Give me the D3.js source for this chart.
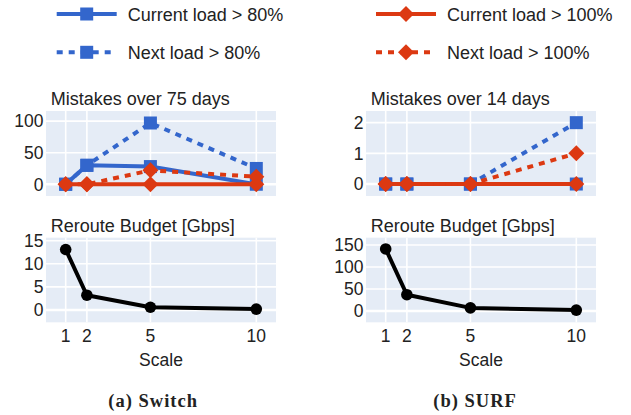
<!DOCTYPE html>
<html>
<head>
<meta charset="utf-8">
<script src="https://cdn.jsdelivr.net/npm/d3@7"></script>
<style>
body { margin: 0; background: #fff; }
svg text { font-family: "Liberation Sans", Arial, sans-serif; fill: #222; }
</style>
</head>
<body>
<svg id="chart" width="631" height="415"></svg>
<script>
// scale factors on x axis
var scales = [1, 2, 5, 10];

// Switch (left)
var switchCur80 = [0, 30, 28, 0];
var switchNext80 = [0, 30, 97, 25];
var switchCur100 = [0, 0, 0, 0];
var switchNext100 = [0, 0, 22, 12];
var switchBudget = [13.1, 3.2, 0.6, 0.2];

// SURF (right)
var surfCur80 = [0, 0, 0, 0];
var surfNext80 = [0, 0, 0, 2];
var surfCur100 = [0, 0, 0, 0];
var surfNext100 = [0, 0, 0, 1];
var surfBudget = [141, 37, 7, 2];

var mistakeTicksSwitch = [0, 50, 100];
var mistakeTicksSurf = [0, 1, 2];
var budgetTicksSwitch = [0, 5, 10, 15];
var budgetTicksSurf = [0, 50, 100, 150];

var BLUE = "#3366cc", RED = "#dc3912";
var dashPat = "6,6";

var svg = d3.select("#chart");

var seriesDefs = [
  { name: "Current load > 80%", color: BLUE, dash: null, shape: "square" },
  { name: "Next load > 80%", color: BLUE, dash: dashPat, shape: "square" },
  { name: "Current load > 100%", color: RED, dash: null, shape: "diamond" },
  { name: "Next load > 100%", color: RED, dash: dashPat, shape: "diamond" }
];

function marker(g, shape, color, cx, cy) {
  if (shape == "square") {
    g.append("rect").attr("x", cx - 6.5).attr("y", cy - 6.5)
      .attr("width", 13).attr("height", 13).attr("fill", color);
  } else if (shape == "diamond") {
    g.append("path")
      .attr("d", "M" + cx + "," + (cy - 8) + "L" + (cx + 8) + "," + cy + "L" + cx + "," + (cy + 8) + "L" + (cx - 8) + "," + cy + "Z")
      .attr("fill", color);
  } else {
    g.append("circle").attr("cx", cx).attr("cy", cy).attr("r", 5.8).attr("fill", color);
  }
}

function panel(x0, y0, y1, ydom, yticks, title, series, showX) {
  var x = d3.scaleLinear().domain([0.07, 10.93]).range([x0, x0 + 230]);
  var y = d3.scaleLinear().domain(ydom).range([y1, y0]);
  var g = svg.append("g");

  g.append("rect").attr("x", x0).attr("y", y0).attr("width", 230).attr("height", y1 - y0)
    .attr("fill", "#e5ecf6");

  // grid
  g.selectAll(".vg").data(scales).enter().append("line")
    .attr("x1", d => x(d)).attr("x2", d => x(d)).attr("y1", y0).attr("y2", y1)
    .attr("stroke", "#fff").attr("stroke-width", 1.6);
  g.selectAll(".hg").data(yticks).enter().append("line")
    .attr("x1", x0).attr("x2", x0 + 230).attr("y1", d => y(d)).attr("y2", d => y(d))
    .attr("stroke", "#fff").attr("stroke-width", d => d == 0 ? 2.6 : 1.6);

  // y tick labels
  g.selectAll(".yt").data(yticks).enter().append("text")
    .attr("x", x0 - 2.5).attr("y", d => y(d)).attr("dy", "0.36em")
    .attr("text-anchor", "end").style("font-size", "17.5px").text(d => d);

  g.append("text").attr("x", x0 + 4.7).attr("y", y0 - 6).style("font-size", "18px").text(title);

  if (showX) {
    g.selectAll(".xt").data(scales).enter().append("text")
      .attr("x", d => x(d)).attr("y", 342).attr("text-anchor", "middle")
      .style("font-size", "17.5px").text(d => d);
    g.append("text").attr("x", x0 + 115).attr("y", 366).attr("text-anchor", "middle")
      .style("font-size", "17.5px").text("Scale");
  }

  var line = d3.line().x((d, i) => x(scales[i])).y(d => y(d));
  series.forEach(function (s) {
    g.append("path").datum(s.values).attr("d", line).attr("fill", "none")
      .attr("stroke", s.color).attr("stroke-width", 4)
      .attr("stroke-dasharray", s.dash).attr("stroke-linejoin", "round");
    s.values.forEach(function (v, i) { marker(g, s.shape, s.color, x(scales[i]), y(v)); });
  });
}

function mistakeSeries(vals) {
  return seriesDefs.map((d, i) => Object.assign({}, d, { values: vals[i] }));
}

panel(46, 111, 196, [-18.6, 116], mistakeTicksSwitch, "Mistakes over 75 days",
  mistakeSeries([switchCur80, switchNext80, switchCur100, switchNext100]), false);
panel(366, 111, 196, [-0.39, 2.38], mistakeTicksSurf, "Mistakes over 14 days",
  mistakeSeries([surfCur80, surfNext80, surfCur100, surfNext100]), false);
panel(46, 237.7, 322.3, [-2.66, 15.65], budgetTicksSwitch, "Reroute Budget [Gbps]",
  [{ color: "#000", dash: null, shape: "circle", values: switchBudget }], true);
panel(366, 237.7, 322.3, [-25.7, 166.6], budgetTicksSurf, "Reroute Budget [Gbps]",
  [{ color: "#000", dash: null, shape: "circle", values: surfBudget }], true);

// legend
var legPos = [[56.7, 14], [56.7, 52.3], [376, 14], [376, 52.3]];
seriesDefs.forEach(function (s, i) {
  var lx = legPos[i][0], ly = legPos[i][1];
  var lg = svg.append("g");
  lg.append("line").attr("x1", lx).attr("x2", lx + 60).attr("y1", ly).attr("y2", ly)
    .attr("stroke", s.color).attr("stroke-width", 4).attr("stroke-dasharray", s.dash);
  marker(lg, s.shape, s.color, lx + 30, ly);
  lg.append("text").attr("x", lx + 71).attr("y", ly + 7).style("font-size", "18px").text(s.name);
});

// captions
svg.append("text").attr("x", 108.3).attr("y", 406.5)
  .style("font-family", "'Liberation Serif', serif").style("font-weight", "bold")
  .style("font-size", "18.5px").style("letter-spacing", "1px").text("(a) Switch");
svg.append("text").attr("x", 433.3).attr("y", 406.5)
  .style("font-family", "'Liberation Serif', serif").style("font-weight", "bold")
  .style("font-size", "18.5px").style("letter-spacing", "1px").text("(b) SURF");
</script>
</body>
</html>
